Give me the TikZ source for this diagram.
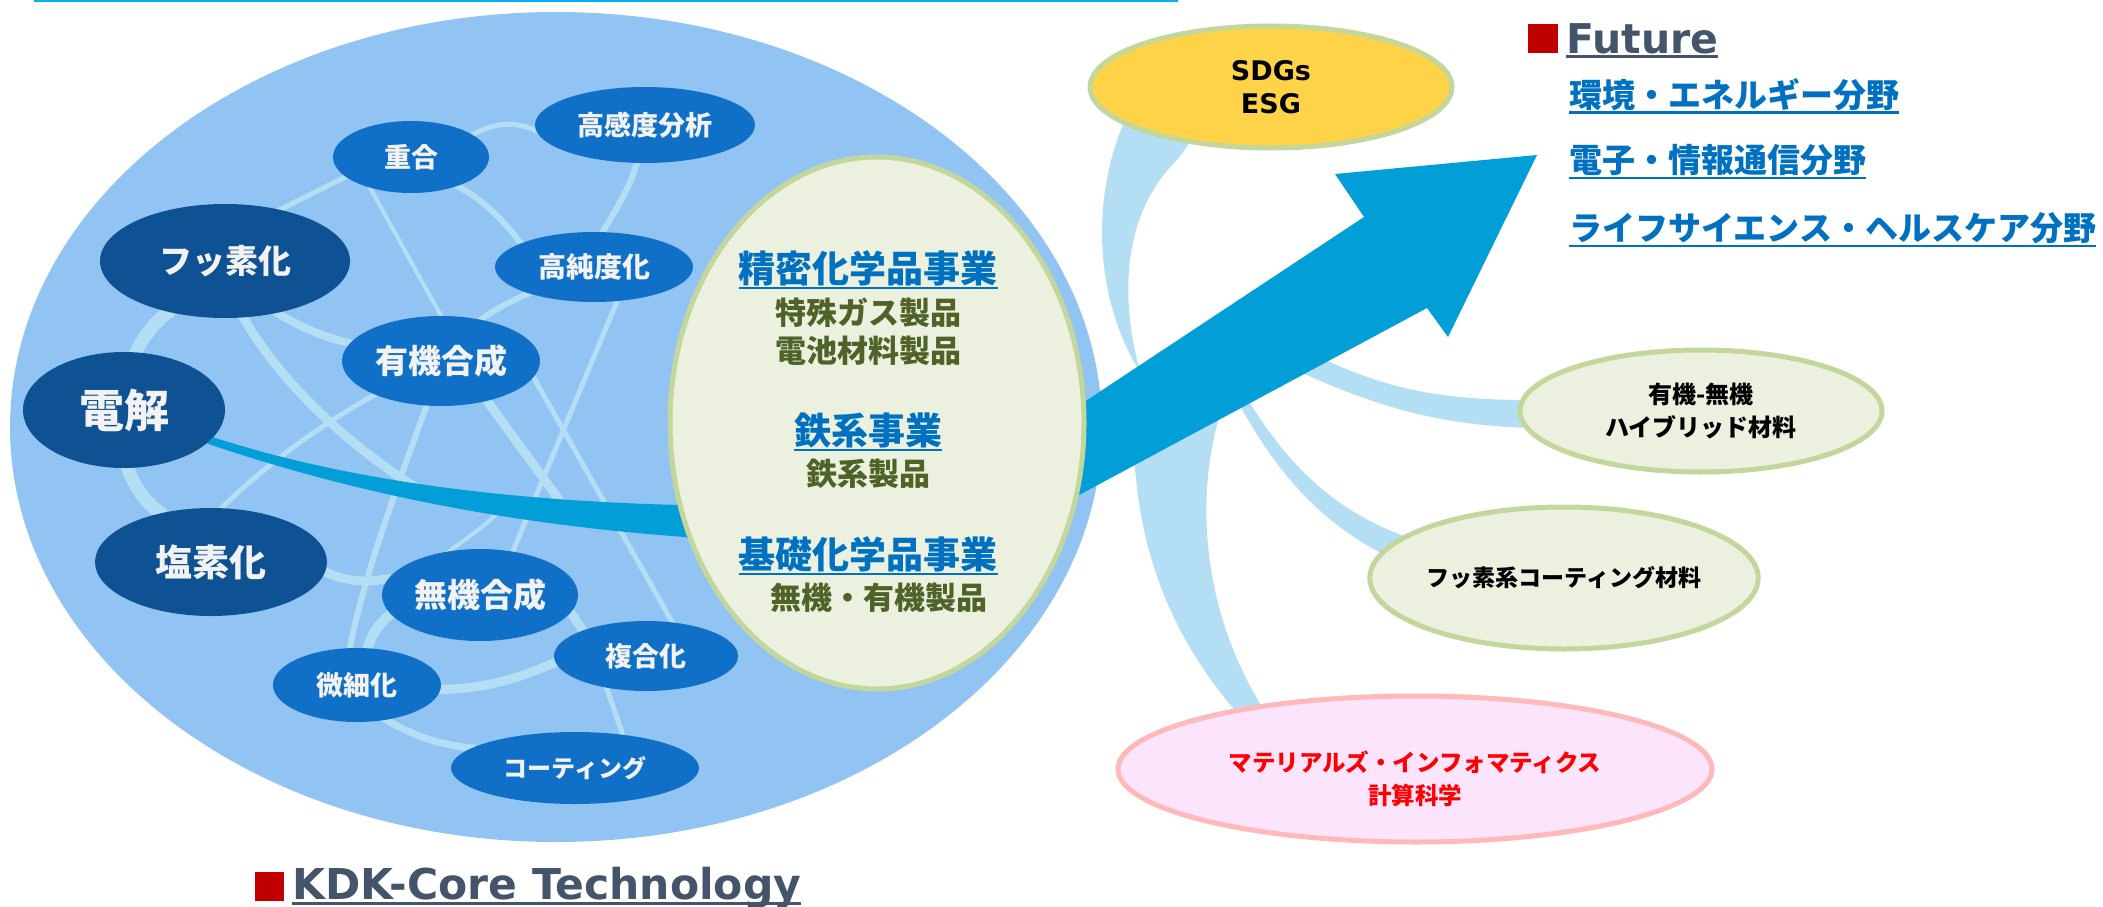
\documentclass[tikz,border=0pt]{standalone}
\usepackage{fontspec}
\setmainfont{DejaVu Sans}
\newfontfamily\jpfont{Noto Sans CJK JP}
\newfontfamily\lafont{DejaVu Sans}
\usetikzlibrary{shapes.geometric}
\pgfdeclarelayer{bg}
\pgfsetlayers{bg,main}
\definecolor{circbg}{RGB}{146,196,243}
\definecolor{netc}{RGB}{180,222,243}
\definecolor{midb}{RGB}{16,112,200}
\definecolor{darkb}{RGB}{14,82,148}
\definecolor{flowc}{RGB}{2,158,216}
\definecolor{bizfill}{RGB}{235,241,222}
\definecolor{bizline}{RGB}{195,214,155}
\definecolor{sdgfill}{RGB}{255,211,71}
\definecolor{headblue}{RGB}{0,112,192}
\definecolor{prodc}{RGB}{79,98,40}
\definecolor{slate}{RGB}{68,84,106}
\definecolor{sqred}{RGB}{192,0,0}
\definecolor{pinkfill}{RGB}{253,228,253}
\definecolor{pinkline}{RGB}{255,185,185}
\definecolor{labw}{RGB}{242,242,242}
\definecolor{topline}{RGB}{0,176,240}
\definecolor{mired}{RGB}{255,0,0}
\newcommand\myfs[1]{\fontsize{#1}{#1}\selectfont}
\newcommand\myulj[1]{\setbox0=\hbox{#1}\rlap{\rule[-0.19em]{\wd0}{0.07em}}\box0}
\newcommand\myull[1]{\setbox0=\hbox{#1}\rlap{\rule[-0.13em]{\wd0}{0.07em}}\box0}
\begin{document}
\begin{tikzpicture}[x=1pt,y=-1pt,
  net/.style={draw=netc, shorten <=-4pt, shorten >=-4pt},
  tech/.style={ellipse, inner sep=0pt, text=labw, font=\jpfont\bfseries},
  midn/.style={tech, fill=midb},
  darkn/.style={tech, fill=darkb},
  bubble/.style={ellipse, inner sep=0pt, line width=5pt, align=center},
  txt/.style={inner sep=0pt},
  headtxt/.style={txt, text=headblue, font={\jpfont\bfseries\myfs{37}}},
  prodtxt/.style={txt, text=prodc, font={\jpfont\bfseries\myfs{31}}},
  futtxt/.style={txt, anchor=west, text=headblue, font={\jpfont\bfseries\myfs{33}}}]
\useasboundingbox (0,0) rectangle (2103,907);
\begin{pgfonlayer}{bg}
\fill[circbg] (556,427) ellipse [x radius=546pt, y radius=415pt];
\end{pgfonlayer}
\draw[topline, line width=2pt] (34,1) -- (1178,1);

% technology nodes
\node[midn, minimum width=220pt, minimum height=76pt] (kando) at (645,125) {\myfs{27}高感度分析};
\node[midn, minimum width=156pt, minimum height=72pt] (jugo) at (411,157) {\myfs{27}重合};
\node[darkn, minimum width=250pt, minimum height=114pt] (fusso) at (225,261) {\myfs{33}フッ素化};
\node[midn, minimum width=198pt, minimum height=70pt] (junka) at (594,267) {\myfs{28}高純度化};
\node[midn, minimum width=198pt, minimum height=90pt] (yuki) at (441,361) {\myfs{33}有機合成};
\node[darkn, minimum width=202pt, minimum height=116pt] (denkai) at (124,410) {\myfs{45}電解};
\node[darkn, minimum width=232pt, minimum height=108pt] (enso) at (211,562) {\myfs{37}塩素化};
\node[midn, minimum width=196pt, minimum height=92pt] (muki) at (480,595) {\myfs{33}無機合成};
\node[midn, minimum width=184pt, minimum height=70pt] (fukugo) at (646,656) {\myfs{27}複合化};
\node[midn, minimum width=168pt, minimum height=74pt] (bisai) at (357,685) {\myfs{27}微細化};
\node[midn, minimum width=248pt, minimum height=72pt] (coat) at (575,768) {\myfs{24}コーティング};

\coordinate (mend) at (415,487);
\coordinate (jend) at (568,512);
\coordinate (pend) at (498,512);

% network
\begin{pgfonlayer}{bg}
\draw[net, line width=5pt] (jugo.197) -- (fusso.43);
\draw[net, line width=5pt] (jugo.20) .. controls (495,122) and (515,120) .. (kando.183);
\draw[net, line width=4pt] (jugo.217) -- (yuki.90);
\draw[net, line width=6pt] (jugo.328) .. controls (485,200) and (505,222) .. (junka.162);
\draw[net, line width=6pt] (kando.258) .. controls (630,190) and (612,215) .. (junka.76);
\draw[net, line width=8pt] (fusso.315) .. controls (305,330) and (327,338) .. (yuki.169);
\draw[net, line width=6pt] (junka.202) .. controls (510,302) and (492,310) .. (yuki.46);
\draw[net, line width=5pt] (junka.304) -- (muki.53);
\draw[net, line width=5pt] (yuki.350) -- (fukugo.52);
\draw[net, line width=9pt] (yuki.319) -- (jend);
\draw[net, line width=6pt] (yuki.252) .. controls (400,480) and (365,570) .. (bisai.101);
\draw[net, line width=5pt] (enso.79) .. controls (265,465) and (320,425) .. (yuki.207);
\draw[net, line width=9pt] (fusso.288) .. controls (275,375) and (340,440) .. (mend);
\draw[net, line width=13pt] (fusso.222) .. controls (115,345) and (95,470) .. (enso.136);
\draw[net, line width=9pt] (enso.355) .. controls (345,582) and (365,583) .. (muki.170);
\draw[net, line width=4pt] (muki.125) .. controls (470,535) and (488,525) .. (pend);
\draw[net, line width=10pt] (muki.192) .. controls (380,622) and (370,635) .. (bisai.74);
\draw[net, line width=9pt] (bisai.357) .. controls (485,690) and (525,676) .. (fukugo.184);
\draw[net, line width=7pt] (bisai.310) .. controls (415,737) and (440,745) .. (coat.169);
\draw[net, line width=5pt] (fukugo.219) -- (coat.35);
\draw[net, line width=9pt] (muki.349) -- (fukugo.158);
\end{pgfonlayer}

% electrolysis flow band
\fill[flowc] (denkai.343) .. controls (330,475) and (480,500) .. (680,505) -- (880,537) -- (880,602) -- (685,537) .. controls (480,522) and (330,485) .. (denkai.338) -- cycle;

% light branch bands
\fill[netc] (1125,120) .. controls (1090,200) and (1095,300) .. (1140,372) .. controls (1118,290) and (1125,210) .. (1178,159) -- (1195,135) -- cycle;
\fill[netc] (1135,380) .. controls (1125,520) and (1160,630) .. (1248,725) -- (1272,722) .. controls (1195,610) and (1195,480) .. (1225,400) -- cycle;
\fill[netc] (1245,395) .. controls (1290,470) and (1340,515) .. (1415,540) -- (1395,560) .. controls (1320,525) and (1275,470) .. (1238,402) -- cycle;
\fill[netc] (1315,355) .. controls (1390,392) and (1450,400) .. (1530,400) -- (1530,428) .. controls (1440,425) and (1380,408) .. (1300,372) -- cycle;

% big arrow
\fill[flowc] (880,537) -- (1364,217) -- (1335,174) -- (1537,155) -- (1448,337) -- (1427,308) -- (880,602) -- cycle;

% business ellipse
\node[bubble, fill=bizfill, draw=bizline, minimum width=414pt, minimum height=532pt] (biz) at (877,423) {};
\node[headtxt] (h1) at (868,270) {\myulj{精密化学品事業}};
\node[prodtxt] (p1a) at (868,313) {特殊ガス製品};
\node[prodtxt] (p1b) at (868,351) {電池材料製品};
\node[headtxt] (h2) at (868,432) {\myulj{鉄系事業}};
\node[prodtxt] (p2) at (868,474) {鉄系製品};
\node[headtxt] (h3) at (868,556) {\myulj{基礎化学品事業}};
\node[prodtxt] (p3) at (879,598) {無機・有機製品};

% outer bubbles
\node[bubble, fill=sdgfill, draw=bizline, minimum width=362pt, minimum height=122pt, font={\lafont\bfseries\fontsize{27}{33}\selectfont}] (sdgs) at (1271,87) {SDGs\\ESG};
\node[bubble, fill=bizfill, draw=bizline, minimum width=362pt, minimum height=122pt, font={\jpfont\bfseries\fontsize{24}{33}\selectfont}] (hybrid) at (1701,411) {有機-無機\\ハイブリッド材料};
\node[bubble, fill=bizfill, draw=bizline, minimum width=386pt, minimum height=142pt, font={\jpfont\bfseries\myfs{23}}] (fcoat) at (1564,578) {フッ素系コーティング材料};
\node[bubble, fill=pinkfill, draw=pinkline, minimum width=594pt, minimum height=146pt] (mi) at (1415,769) {};
\node[txt, align=center, text=mired, font={\jpfont\bfseries\fontsize{23.5}{33}\selectfont}] (mitxt) at (1415,779) {マテリアルズ・インフォマティクス\\計算科学};

% Future block
\node[fill=sqred, minimum width=30pt, minimum height=29pt, inner sep=0pt] (futsq) at (1543,38.5) {};
\node[txt, anchor=base west, text=slate, font={\lafont\bfseries\myfs{41}}] (fut) at (1566,53) {\myull{Future}};
\node[futtxt] (f1) at (1569,96) {\myulj{環境・エネルギー分野}};
\node[futtxt] (f2) at (1569,162) {\myulj{電子・情報通信分野}};
\node[futtxt] (f3) at (1569,230) {\myulj{ライフサイエンス・ヘルスケア分野}};

% KDK block
\node[fill=sqred, minimum width=29pt, minimum height=29pt, inner sep=0pt] (kdksq) at (269.5,886.5) {};
\node[txt, anchor=base west, text=slate, font={\lafont\bfseries\myfs{42.5}}] (kdk) at (292,899) {\myull{KDK-Core Technology}};
\end{tikzpicture}
\end{document}
